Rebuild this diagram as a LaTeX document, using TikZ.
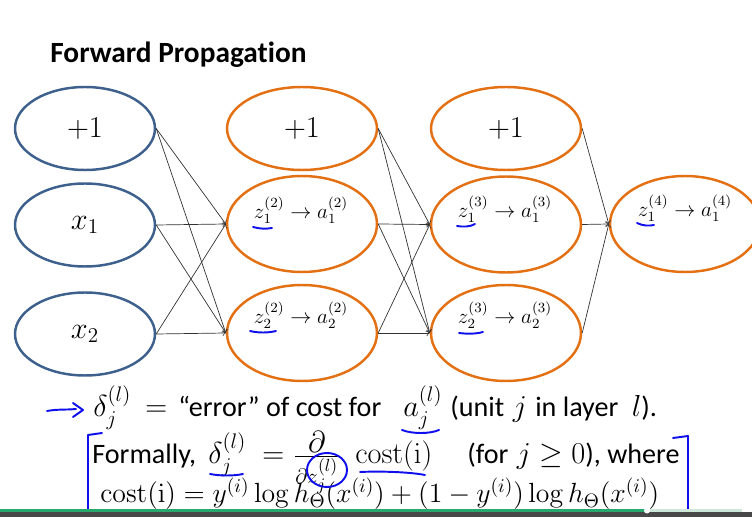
\RequirePackage{fix-cm}
\documentclass[tikz,border=0pt]{standalone}
\usepackage{amsmath}
\usepackage{amssymb}
\usepackage[no-math]{fontspec}
\newfontfamily\slidefont[Ligatures={NoCommon}]{Carlito}
\usetikzlibrary{arrows}
\usetikzlibrary{shapes,calc}
\definecolor{inblue}{RGB}{62,96,140}
\definecolor{hidorange}{RGB}{228,112,20}
\definecolor{penblue}{RGB}{15,15,235}
\definecolor{bargreen}{RGB}{40,168,108}
\definecolor{barpale}{RGB}{205,232,218}
\definecolor{bargray}{RGB}{72,72,72}

\begin{document}
\begin{tikzpicture}[x=0.02cm,y=-0.02cm,>=to,
	unit/.style={ellipse,line width=1.4pt,minimum width=3cm,inner sep=0pt},
	inunit/.style={unit,draw=inblue,minimum width=2.8cm,minimum height=1.66cm},
	bias/.style={unit,draw=hidorange,minimum height=1.66cm},
	hid/.style={unit,draw=hidorange,minimum height=1.92cm},
	big/.style={font=\fontsize{17.28}{20}\selectfont},
	lab/.style={font=\fontsize{12}{15}\selectfont},
	txt/.style={anchor=base west,inner sep=0pt,font=\fontsize{16}{19}\selectfont},
	mth/.style={txt,font=\fontsize{17.28}{20}\selectfont},
	wire/.style={->,black!80,line width=0.4pt},
	pen/.style={penblue,line width=1.1pt,line cap=round,line join=round}]
	\useasboundingbox (0,0) rectangle (752,517);
	\clip (0,0) rectangle (752,517);
	\node[anchor=base west,inner sep=0pt,font=\fontsize{16.7}{20}\selectfont\slidefont\bfseries] (title) at (50,63) {Forward Propagation};
	
	\node[inunit,big] (b0) at (85,128.5) {$+1$};
	\node[inunit,big] (b1) at (85,225) {$x_1$};
	\node[inunit,big] (b2) at (85,334) {$x_2$};
	\node[bias,big] (h20) at (302,128.5) {$+1$};
	\node[hid] (h21) at (302,224) {};
	\node[hid] (h22) at (302,333) {};
	\node[bias,big] (h30) at (506,128.5) {$+1$};
	\node[hid] (h31) at (506,224.5) {};
	\node[hid] (h32) at (506,333) {};
	\node[hid] (h41) at (685,224) {};
	
	\node[lab] (t21) at (301,210) {$z^{(2)}_1 \rightarrow a^{(2)}_1$};
	\node[lab] (t22) at (301,315) {$z^{(2)}_2 \rightarrow a^{(2)}_2$};
	\node[lab] (t31) at (505,209) {$z^{(3)}_1 \rightarrow a^{(3)}_1$};
	\node[lab] (t32) at (505,315) {$z^{(3)}_2 \rightarrow a^{(3)}_2$};
	\node[lab] (t41) at (685,208) {$z^{(4)}_1 \rightarrow a^{(4)}_1$};
	
	\foreach \s in {b0,b1,b2}
		\foreach \t in {h21,h22}
			\draw[wire] (\s.east) -- (\t.west);
	\foreach \s in {h20,h21,h22}
		\foreach \t in {h31,h32}
			\draw[wire] (\s.east) -- (\t.west);
	\foreach \s in {h30,h31,h32}
		\draw[wire] (\s.east) -- (h41.west);
	
	\node[mth] (d1) at (93,417) {$\delta^{(l)}_j$};
	\node[mth] (eq1) at (145,417) {$=$};
	\node[txt] (err) at (178,417) {\slidefont “error” of cost for};
	\node[mth] (a1) at (403,417) {$a^{(l)}_j$};
	\node[txt] (unit) at (450,417) {{\slidefont (unit} {\fontsize{17.28}{20}\selectfont$j$} {\slidefont in layer} {\fontsize{17.28}{20}\selectfont$\,l$}{\slidefont ).}};
	
	\node[txt] (formally) at (92,464) {\slidefont Formally,};
	\node[mth] (d2) at (208,464) {$\delta^{(l)}_j$};
	\node[mth] (eq2) at (262,464) {$=$};
	\node[mth] (dz) at (293,464) {$\frac{\displaystyle\partial}{\partial z^{(l)}_j}$};
	\node[mth] (cost) at (355,464) {$\mathrm{cost}(\mathrm{i})$};
	\node[txt] (forj) at (467,464) {{\slidefont (for} {\fontsize{17.28}{20}\selectfont$j \geq 0$}{\slidefont ), where}};
	
	\node[txt,font=\fontsize{15.8}{19}\selectfont] (line3) at (100,503) {$\mathrm{cost}(\mathrm{i}) = y^{(i)}\log h_\Theta(x^{(i)}) + (1-y^{(i)})\log h_\Theta(x^{(i)})$};
	
	\draw[pen] (47,411) .. controls (58,409) and (66,410) .. (76,409);
	\draw[pen] (73,403) -- (83,410) -- (73,417);
	\draw[pen] (402,430) .. controls (412,434) and (430,434) .. (439,430);
	\draw[pen] (210,474) .. controls (220,476) and (234,476) .. (243,474);
	\draw[pen] (327,470) ellipse [x radius=20, y radius=17];
	\draw[pen] (360,472) .. controls (380,471) and (410,472) .. (425,475);
	\draw[pen] (253,227) .. controls (260,229) and (266,229) .. (272,228);
	\draw[pen] (250,331) .. controls (258,333) and (268,333) .. (276,331);
	\draw[pen] (457,226) .. controls (463,227) and (470,227) .. (475,224);
	\draw[pen] (459,333) .. controls (467,334) and (476,334) .. (483,332);
	\draw[pen] (637,223) .. controls (643,226) and (649,226) .. (654,225);
	\draw[pen] (102,433) -- (88,435) -- (88,520);
	\draw[pen] (673,438) -- (688,436) -- (688,520);
	
	\fill[bargreen] (0,509) rectangle (647,512);
	\fill[barpale] (647,509) rectangle (742,512);
	\fill[bargray] (0,512) rectangle (752,517);
	\fill[white] (647,510.5) circle (0.06cm);
\end{tikzpicture}
\end{document}
